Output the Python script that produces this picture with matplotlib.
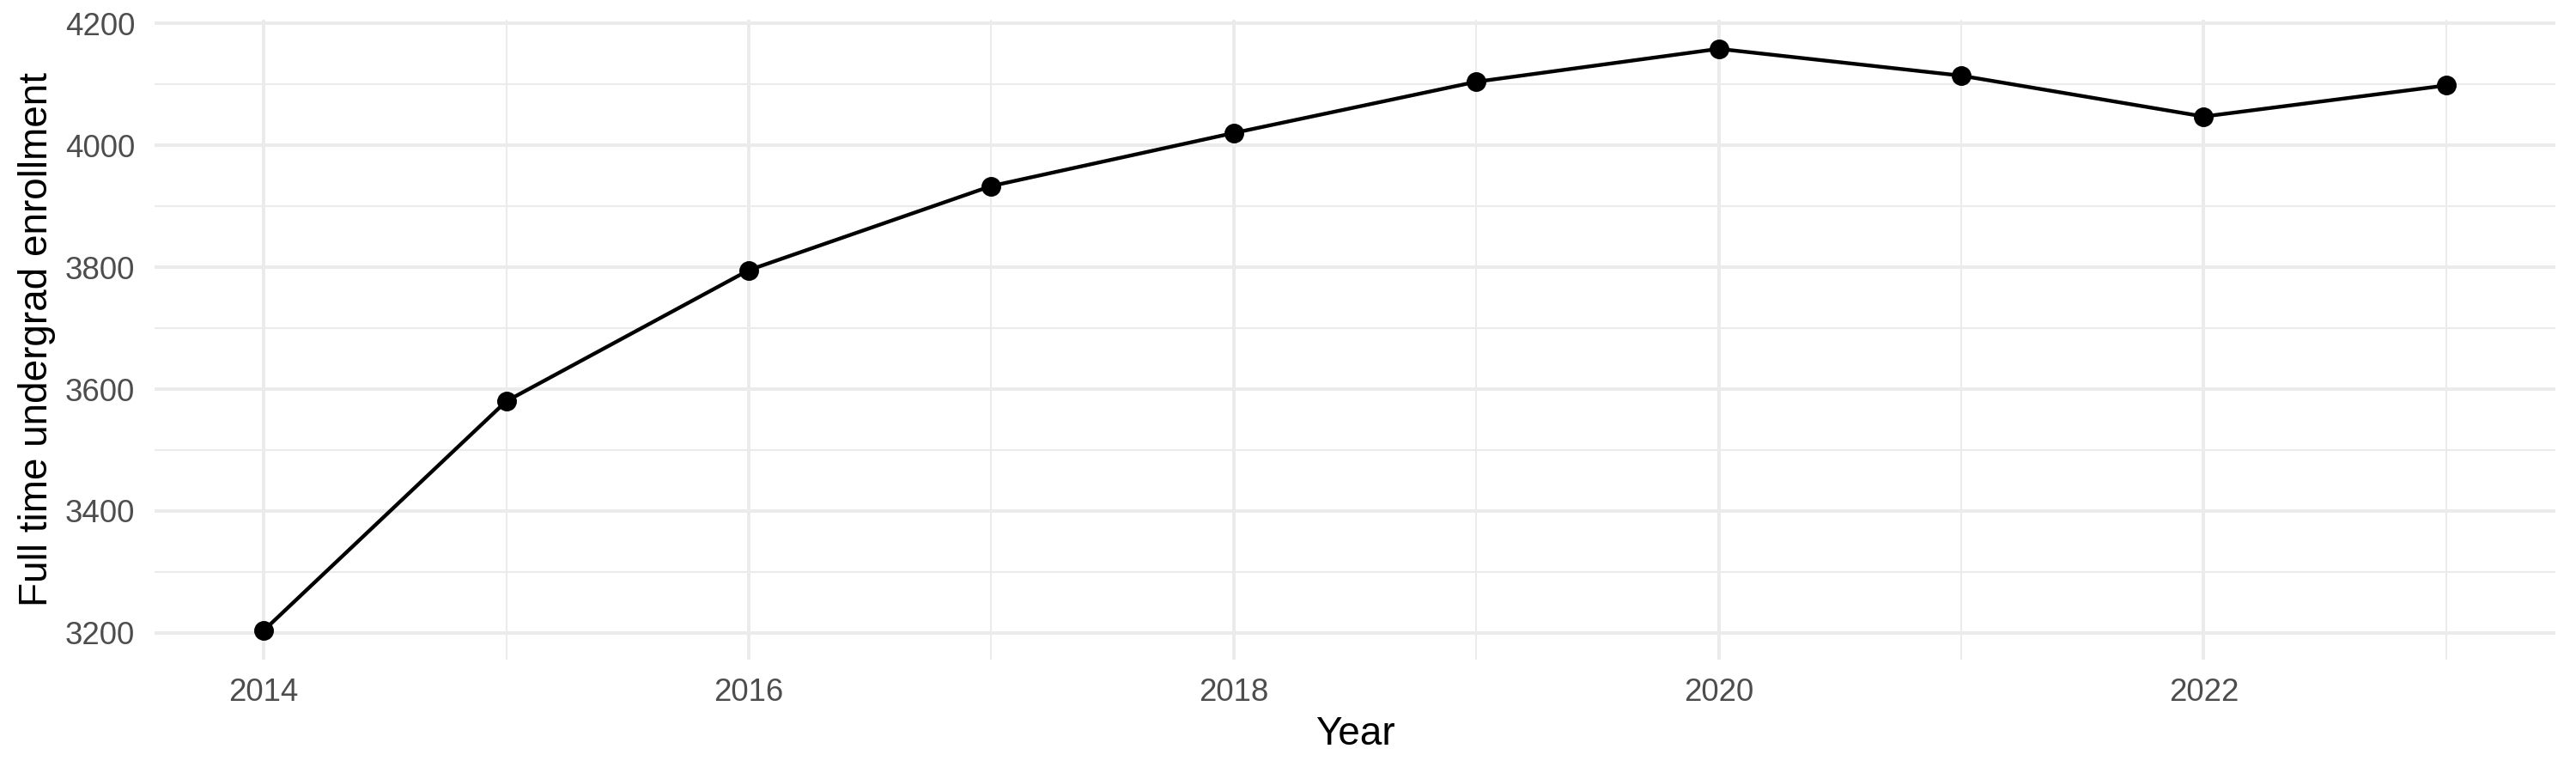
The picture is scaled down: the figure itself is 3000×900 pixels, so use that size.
import matplotlib
matplotlib.use("Agg")
import matplotlib.pyplot as plt
from matplotlib.ticker import FixedLocator

plt.rcParams['font.family'] = ['Liberation Sans', 'DejaVu Sans']

years = [2014, 2015, 2016, 2017, 2018, 2019, 2020, 2021, 2022, 2023]
enrollment = [3204, 3580, 3795, 3933, 4020, 4104, 4158, 4114, 4047, 4098]
x_major = [2014, 2016, 2018, 2020, 2022]
x_minor = [2015, 2017, 2019, 2021, 2023]
y_major = [3200, 3400, 3600, 3800, 4000, 4200]
y_minor = [3300, 3500, 3700, 3900, 4100]

fig = plt.figure(figsize=(10, 3), dpi=300)
ax = fig.add_axes([0.06, 1 - 768 / 900, 0.932, 745 / 900])

ax.plot(years, enrollment, color='black', lw=1.05, marker='o', markersize=4.5,
        zorder=3, solid_capstyle='butt')

xr = max(years) - min(years)
ax.set_xlim(min(years) - 0.05 * xr, max(years) + 0.05 * xr)
yr = max(enrollment) - min(enrollment)
ax.set_ylim(min(enrollment) - 0.05 * yr, max(enrollment) + 0.05 * yr)

ax.xaxis.set_major_locator(FixedLocator(x_major))
ax.xaxis.set_minor_locator(FixedLocator(x_minor))
ax.yaxis.set_major_locator(FixedLocator(y_major))
ax.yaxis.set_minor_locator(FixedLocator(y_minor))

ax.grid(which='major', color='#EBEBEB', lw=0.95)
ax.grid(which='minor', color='#EBEBEB', lw=0.5)
ax.set_axisbelow(True)
for s in ax.spines.values():
    s.set_visible(False)

ax.tick_params(which='both', length=0)
ax.tick_params(axis='x', which='major', pad=5.0, labelsize=8.8, labelcolor='#4D4D4D')
ax.tick_params(axis='y', which='major', pad=5.5, labelsize=8.8, labelcolor='#4D4D4D')

ax.set_xlabel('Year', fontsize=11, color='black', va='center')
ax.set_ylabel('Full time undergrad enrollment', fontsize=11, color='black', va='center')
ax.xaxis.set_label_coords(0.5, (768 - 855) / 745)
ax.yaxis.set_label_coords((43 - 180) / 2796, 0.5)

fig.savefig('out.png', dpi=300, facecolor='white')
